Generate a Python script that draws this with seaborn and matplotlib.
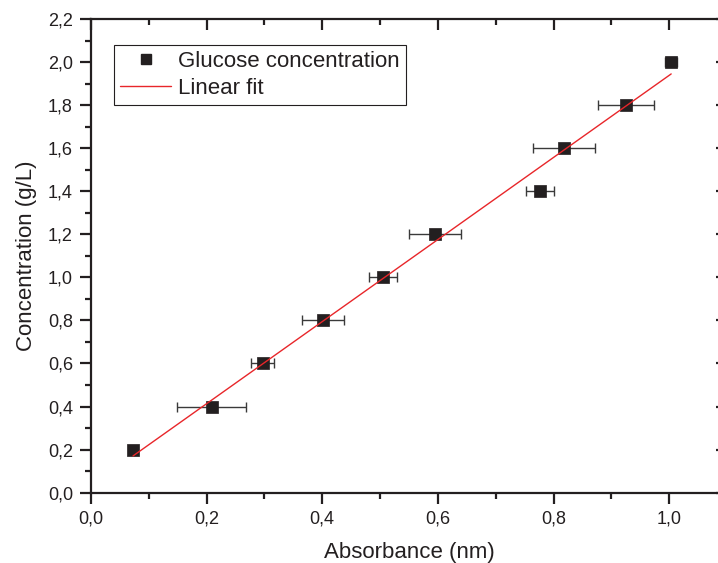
import numpy as np
import pandas as pd
import matplotlib
matplotlib.use("Agg")
import matplotlib.pyplot as plt
import seaborn as sns
from matplotlib.ticker import MultipleLocator, FuncFormatter
from matplotlib.lines import Line2D

# Calibration data
absorbance = [0.0727, 0.2088, 0.297, 0.4014, 0.5047, 0.5946, 0.7763, 0.8183, 0.9256, 1.0035]
absorbance_err = [0.0, 0.060, 0.020, 0.037, 0.024, 0.045, 0.024, 0.053, 0.049, 0.010]
concentration = [0.2, 0.4, 0.6, 0.8, 1.0, 1.2, 1.4, 1.6, 1.8, 2.0]

df = pd.DataFrame({"x": absorbance, "xerr": absorbance_err, "y": concentration})

sns.set_theme(style="ticks")
plt.rcParams["font.family"] = ["Liberation Sans", "DejaVu Sans"]

ink = "#231f20"
red = "#e8262a"

fig = plt.figure(figsize=(7.18, 5.63), dpi=100)
ax = fig.add_axes([0.1267, 0.1249, 0.8858, 0.8414])

# Horizontal error bars
ax.errorbar(df["x"], df["y"], xerr=df["xerr"], fmt="none", ecolor="#3a3a3a",
            elinewidth=1.0, capsize=3.5, capthick=1.0, zorder=2)

# Measured points
sns.scatterplot(data=df, x="x", y="y", marker="s", s=72, color=ink,
                edgecolor=ink, linewidth=0.5, ax=ax, zorder=3, legend=False)

# Least-squares linear fit
slope, intercept = np.polyfit(df["x"], df["y"], 1)
fit_x = np.array([df["x"].min(), df["x"].max()])
fit = pd.DataFrame({"x": fit_x, "y": slope * fit_x + intercept})
sns.lineplot(data=fit, x="x", y="y", color=red, linewidth=1.0, ax=ax, zorder=4)

ax.set_xlim(0, 1.1)
ax.set_ylim(0, 2.2)
ax.xaxis.set_major_locator(MultipleLocator(0.2))
ax.xaxis.set_minor_locator(MultipleLocator(0.1))
ax.yaxis.set_major_locator(MultipleLocator(0.2))
ax.yaxis.set_minor_locator(MultipleLocator(0.1))
comma = FuncFormatter(lambda v, p: f"{v:.1f}".replace(".", ","))
ax.xaxis.set_major_formatter(comma)
ax.yaxis.set_major_formatter(comma)

for s in ax.spines.values():
    s.set_visible(True)
    s.set_color(ink)
    s.set_linewidth(1.6)

ax.tick_params(axis="both", which="major", direction="out", length=8, width=1.6,
               color=ink, labelcolor=ink, labelsize=13, pad=5)
ax.tick_params(axis="both", which="minor", direction="out", length=4.5, width=1.6,
               color=ink)
ax.tick_params(axis="x", which="both", top=True)
ax.tick_params(axis="y", which="both", right=True)
# top and right ticks point inwards
for t in ax.xaxis.get_major_ticks() + ax.xaxis.get_minor_ticks():
    t.tick2line.set_marker(matplotlib.lines.TICKDOWN)
for t in ax.yaxis.get_major_ticks() + ax.yaxis.get_minor_ticks():
    t.tick2line.set_marker(matplotlib.lines.TICKLEFT)

ax.set_xlabel("Absorbance (nm)", fontsize=16, color=ink, labelpad=10)
ax.set_ylabel("Concentration (g/L)", fontsize=16, color=ink, labelpad=8)

handles = [
    Line2D([], [], marker="s", linestyle="none", color=ink, markersize=7.5),
    Line2D([], [], color=red, linewidth=1.0),
]
leg = ax.legend(handles, ["Glucose concentration", "Linear fit"],
                loc="upper left", bbox_to_anchor=(0.0355, 0.946), fontsize=16,
                frameon=True, fancybox=False, framealpha=1, edgecolor=ink,
                handlelength=2.3, handletextpad=0.3, borderpad=0.3,
                labelspacing=0.25, borderaxespad=0)
leg.get_frame().set_linewidth(0.8)
for txt in leg.get_texts():
    txt.set_color(ink)

fig.savefig("out.png", dpi=100)
